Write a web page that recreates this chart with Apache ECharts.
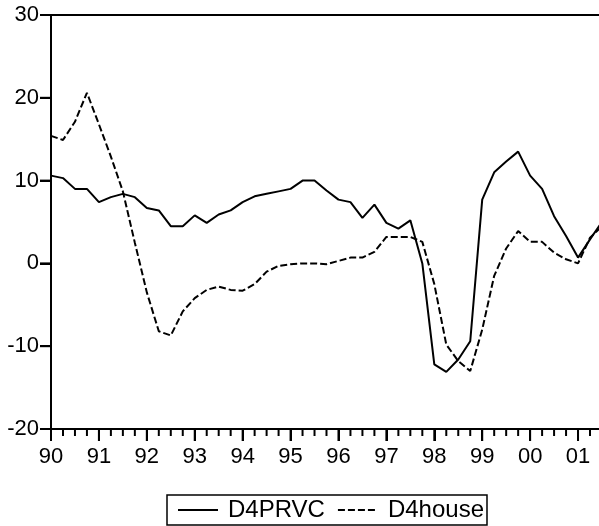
<!DOCTYPE html>
<html>
<head>
<meta charset="utf-8">
<script src="https://cdn.jsdelivr.net/npm/echarts@6/dist/echarts.min.js"></script>
<style>html,body{margin:0;padding:0;background:#fff}#c{width:599px;height:526px}</style>
</head>
<body>
<div id="c"></div>
<script>
// Quarterly observations, 1990Q1 .. 2001Q3
const quarters = ["90Q1","90Q2","90Q3","90Q4","91Q1","91Q2","91Q3","91Q4","92Q1","92Q2","92Q3","92Q4",
  "93Q1","93Q2","93Q3","93Q4","94Q1","94Q2","94Q3","94Q4","95Q1","95Q2","95Q3","95Q4",
  "96Q1","96Q2","96Q3","96Q4","97Q1","97Q2","97Q3","97Q4","98Q1","98Q2","98Q3","98Q4",
  "99Q1","99Q2","99Q3","99Q4","00Q1","00Q2","00Q3","00Q4","01Q1","01Q2","01Q3"];
const d4prvc = [10.6,10.3,9.0,9.0,7.4,8.0,8.4,8.0,6.7,6.4,4.5,4.5,
  5.8,4.9,5.9,6.4,7.4,8.1,8.4,8.7,9.0,10.0,10.0,8.8,
  7.7,7.4,5.5,7.1,4.9,4.2,5.2,0.0,-12.2,-13.1,-11.6,-9.4,
  7.7,11.0,12.3,13.5,10.6,9.0,5.7,3.3,0.7,2.9,5.0];
const d4house = [15.4,14.9,17.1,20.6,16.8,12.9,8.7,2.5,-3.5,-8.2,-8.7,-5.8,
  -4.2,-3.2,-2.8,-3.2,-3.3,-2.5,-1.0,-0.3,-0.1,0.0,0.0,-0.1,
  0.3,0.7,0.7,1.4,3.2,3.2,3.2,2.6,-2.5,-9.8,-11.8,-13.0,
  -8.0,-1.5,1.8,3.9,2.6,2.6,1.3,0.5,0.0,3.1,4.5];
const seriesNames = ["D4PRVC","D4house"];
const yTicks = [-20,-10,0,10,20,30];
const firstYear = 90;
const quarterTicks = quarters.slice(0, 46).map((q,i)=>i); // tick positions 90Q1 .. 01Q2

const font = "'Liberation Sans', Arial, sans-serif";
const chart = echarts.init(document.getElementById('c'), null, {renderer:'canvas'});
const pairs = arr => arr.map((v,i)=>[i,v]);
const XMAX = 45.75; // visible range ends part-way through 2001Q3
const YMIN = yTicks[0], YMAX = yTicks[yTicks.length-1];
const axBlack = () => ({color:'#000', width:2});

chart.setOption({
  animation:false,
  grid:{left:51, top:15, bottom:97, right:0, show:false},
  xAxis:[
    {type:'value', min:0, max:XMAX, interval:4, position:'bottom', z:10,
      axisLine:{show:true, onZero:false, lineStyle:axBlack()},
      axisTick:{show:true, length:12, lineStyle:axBlack()},
      splitLine:{show:false},
      axisLabel:{color:'#000', fontSize:22, fontFamily:font, margin:17, showMaxLabel:false,
        formatter:v=>{ if (v % 4 !== 0) return ''; const y=(firstYear+v/4)%100; return String(y).padStart(2,'0');}}
    },
    {type:'value', min:0, max:XMAX, position:'top', z:10,
      axisLine:{show:true, onZero:false, lineStyle:axBlack()},
      axisTick:{show:false}, splitLine:{show:false}, axisLabel:{show:false}
    }
  ],
  yAxis:{type:'value', min:YMIN, max:YMAX, interval:10, z:10,
    axisLine:{show:true, onZero:false, lineStyle:axBlack()},
    axisTick:{show:true, length:11, lineStyle:axBlack()},
    splitLine:{show:false},
    axisLabel:{color:'#000', fontSize:22, fontFamily:font, margin:12}
  },
  legend:{show:true, left:167, bottom:1, itemWidth:40, itemHeight:12, itemGap:12,
    borderColor:'#000', borderWidth:1.5, borderRadius:0, padding:[3,3,3,10],
    itemStyle:{opacity:0},
    textStyle:{color:'#000', fontSize:24, fontFamily:font, padding:[0,0,0,5]},
    data:seriesNames
  },
  series:[
    {name:seriesNames[0], type:'line', data:pairs(d4prvc), symbol:'none', clip:true,
     lineStyle:{color:'#000', width:2, type:'solid'}, itemStyle:{color:'#000'}},
    {name:seriesNames[1], type:'line', data:pairs(d4house), symbol:'none', clip:true,
     lineStyle:{color:'#000', width:2, type:[7,3]}, itemStyle:{color:'#000'}},
    // quarter / year tick marks below the time axis
    {name:'xticks', type:'custom', xAxisIndex:0, yAxisIndex:0, clip:false, silent:true, z:10,
     data:quarterTicks.map(i=>[i, YMIN]),
     renderItem:(params, api)=>{
       const x = api.value(0); const p = api.coord([x, api.value(1)]);
       const len = (x % 4 === 0) ? 12 : 7;
       return {type:'line', shape:{x1:p[0], y1:p[1], x2:p[0], y2:p[1]+len}, style:{stroke:'#000', lineWidth:2}};
     }},
    // value tick marks left of the value axis
    {name:'yticks', type:'custom', xAxisIndex:0, yAxisIndex:0, clip:false, silent:true, z:10,
     data:yTicks.map(v=>[0, v]),
     renderItem:(params, api)=>{
       const p = api.coord([api.value(0), api.value(1)]);
       return {type:'line', shape:{x1:p[0]-11, y1:p[1], x2:p[0], y2:p[1]}, style:{stroke:'#000', lineWidth:2}};
     }}
  ]
});
</script>
</body>
</html>
